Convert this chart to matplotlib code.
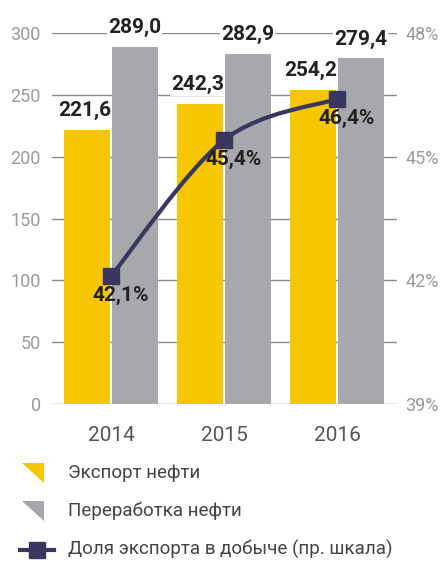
import numpy as np
import matplotlib
matplotlib.use("Agg")
import matplotlib.pyplot as plt
from matplotlib.path import Path
from matplotlib.patches import PathPatch, Polygon
from matplotlib.lines import Line2D

years = ["2014", "2015", "2016"]
export_vals = [221.6, 242.3, 254.2]
refining_vals = [289.0, 282.9, 279.4]
share_vals = [42.1, 45.4, 46.4]

left_ticks = [0, 50, 100, 150, 200, 250, 300]
right_ticks = [39, 42, 45, 48]

YELLOW = "#F7C600"
GREY = "#A7A8AB"
NAVY = "#393660"
TICK_C = "#9A9A9A"
TEXT_C = "#222222"

plt.rcParams['font.family'] = ['Roboto', 'DejaVu Sans']


def fmt(v, suffix=""):
    return f"{v:.1f}".replace(".", ",") + suffix


def smooth_path(xs, ys):
    # catmull-rom -> cubic bezier
    pts = np.column_stack([xs, ys]).astype(float)
    n = len(pts)
    tang = np.zeros_like(pts)
    for i in range(n):
        a = pts[max(i - 1, 0)]
        b = pts[min(i + 1, n - 1)]
        tang[i] = (b - a) / 2
    verts = [pts[0]]
    codes = [Path.MOVETO]
    for i in range(n - 1):
        verts += [pts[i] + tang[i] / 3, pts[i + 1] - tang[i + 1] / 3, pts[i + 1]]
        codes += [Path.CURVE4] * 3
    return Path(verts, codes)


fig = plt.figure(figsize=(4.4, 5.63), dpi=100)
ax = fig.add_axes([0.118, 0.2824, 0.784, 0.659])

x = np.arange(len(years))
w = 0.405
xe = x - w / 2 - 0.008
xr = x + w / 2 + 0.008
ax.bar(xe, export_vals, w, color=YELLOW, zorder=2)
ax.bar(xr, refining_vals, w, color=GREY, zorder=2)

for xi, v in zip(xe, export_vals):
    ax.annotate(fmt(v), (xi, v), xytext=(-2, 14), textcoords="offset points",
                ha="center", va="center", fontsize=15, fontweight="bold", color=TEXT_C,
                bbox=dict(boxstyle="square,pad=0.05", fc="white", ec="none"), zorder=3)
for xi, v in zip(xr, refining_vals):
    ax.annotate(fmt(v), (xi, v), xytext=(0, 14), textcoords="offset points",
                ha="center", va="center", fontsize=15, fontweight="bold", color=TEXT_C,
                bbox=dict(boxstyle="square,pad=0.05", fc="white", ec="none"), zorder=3)

ax.set_xlim(-0.522, 2.53)
ax.set_ylim(0, 300)
ax.set_yticks(left_ticks)
ax.set_xticks(x)
ax.set_xticklabels(years)
ax.grid(axis="y", color="#8A8A8A", linewidth=1)
ax.set_axisbelow(True)
ax.tick_params(axis="y", length=0, pad=8, labelsize=13, labelcolor=TICK_C)
ax.tick_params(axis="x", length=0, pad=16, labelsize=15, labelcolor="#555555")
for s in ax.spines.values():
    s.set_visible(False)

ax2 = ax.twinx()
ax2.set_ylim(39, 48)
ax2.set_yticks(right_ticks)
ax2.set_yticklabels([f"{t}%" for t in right_ticks])
ax2.tick_params(axis="y", length=0, pad=6, labelsize=13, labelcolor=TICK_C)
for s in ax2.spines.values():
    s.set_visible(False)

ax2.add_patch(PathPatch(smooth_path(x, share_vals), fc="none", ec=NAVY, lw=3, zorder=4))
ax2.plot(x, share_vals, linestyle="none", marker="s", markersize=11, color=NAVY, zorder=5)
for xi, v in zip(x, share_vals):
    ax2.annotate(fmt(v, "%"), (xi, v), xytext=(7, -14), textcoords="offset points",
                 ha="center", va="center", fontsize=15, fontweight="bold", color=TEXT_C, zorder=6)

# legend
def tri(y0, color):
    fig.patches.append(Polygon([(22 / 440, 1 - y0 / 563), (44 / 440, 1 - y0 / 563),
                                (44 / 440, 1 - (y0 + 20) / 563)], closed=True,
                               transform=fig.transFigure, fc=color, ec="none"))

tri(463, YELLOW)
tri(501, GREY)
fig.lines.append(Line2D([20 / 440, 54 / 440], [1 - 550 / 563] * 2, transform=fig.transFigure,
                        color=NAVY, lw=3))
fig.lines.append(Line2D([37 / 440], [1 - 550 / 563], transform=fig.transFigure,
                        color=NAVY, marker="s", markersize=11, linestyle="none"))
leg_labels = ["Экспорт нефти", "Переработка нефти", "Доля экспорта в добыче (пр. шкала)"]
for lab, yy in zip(leg_labels, [473, 511, 549]):
    fig.text(68 / 440, 1 - yy / 563, lab, fontsize=13.5, color="#444444", va="center", ha="left")

fig.savefig("out.png", dpi=100)
